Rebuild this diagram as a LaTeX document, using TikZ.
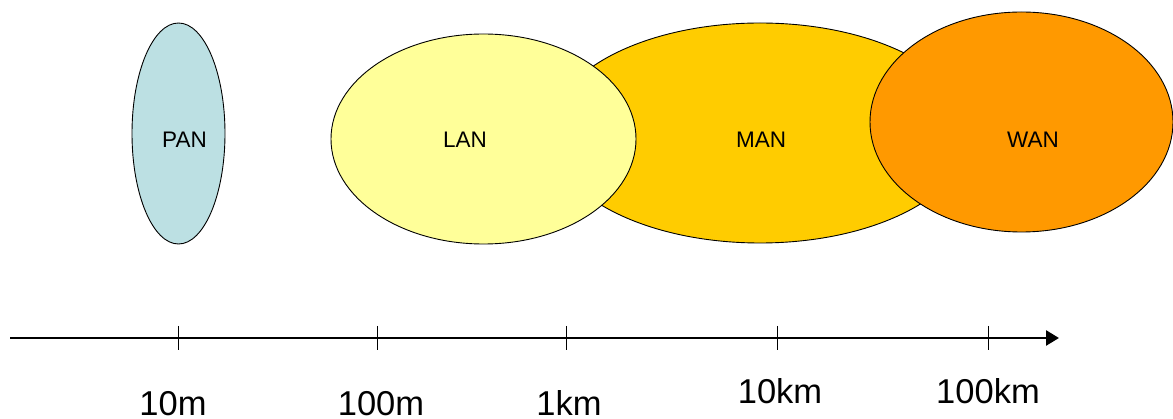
\documentclass[tikz,border=0pt]{standalone}
\usepackage{fontspec}
\setmainfont{Liberation Sans}
\usetikzlibrary{shapes.geometric,arrows.meta}
\definecolor{panc}{HTML}{BCE0E3}
\definecolor{lanc}{HTML}{FFFF99}
\definecolor{manc}{HTML}{FFCC00}
\definecolor{wanc}{HTML}{FF9900}
\begin{document}
\begin{tikzpicture}[x=1pt,y=-1pt,
  net/.style={ellipse,draw=black,line width=0.9pt,inner sep=0pt},
  netlabel/.style={anchor=base,font=\fontsize{22.5}{26}\selectfont,inner sep=0pt},
  ticklabel/.style={anchor=base,font=\fontsize{34.5}{40}\selectfont,inner sep=0pt},
  tick/.style={line width=0.8pt}]
\useasboundingbox (0,0) rectangle (1173,419);
% ellipses
\node[net,fill=manc,minimum width=420pt,minimum height=220pt] (man) at (760,133) {};
\node[net,fill=lanc,minimum width=305pt,minimum height=210pt] (lan) at (483.5,139) {};
\node[net,fill=wanc,minimum width=303pt,minimum height=220pt] (wan) at (1021.5,122) {};
\node[net,fill=panc,minimum width=93pt,minimum height=221pt] (pan) at (178.5,133.5) {};
% ellipse labels
\node[netlabel] (panl) at (184.5,148) {PAN};
\node[netlabel] (lanl) at (465,148) {LAN};
\node[netlabel] (manl) at (761,148) {MAN};
\node[netlabel] (wanl) at (1033,148) {WAN};
% axis
\coordinate (axs) at (10,338);
\coordinate (axe) at (1059,338);
\draw[line width=2.6pt,-{Triangle[length=13pt,width=15pt]}] (axs) -- (axe);
\foreach \n/\x in {t1/178,t2/377,t3/566,t4/777,t5/988}{
  \coordinate (\n a) at (\x,326);
  \coordinate (\n b) at (\x,350);
  \draw[tick] (\n a) -- (\n b);
}
\node[ticklabel] (l1) at (173,416) {10m};
\node[ticklabel] (l2) at (381,416) {100m};
\node[ticklabel] (l3) at (569,416) {1km};
\node[ticklabel] (l4) at (780,404) {10km};
\node[ticklabel] (l5) at (988,404) {100km};
\end{tikzpicture}
\end{document}
